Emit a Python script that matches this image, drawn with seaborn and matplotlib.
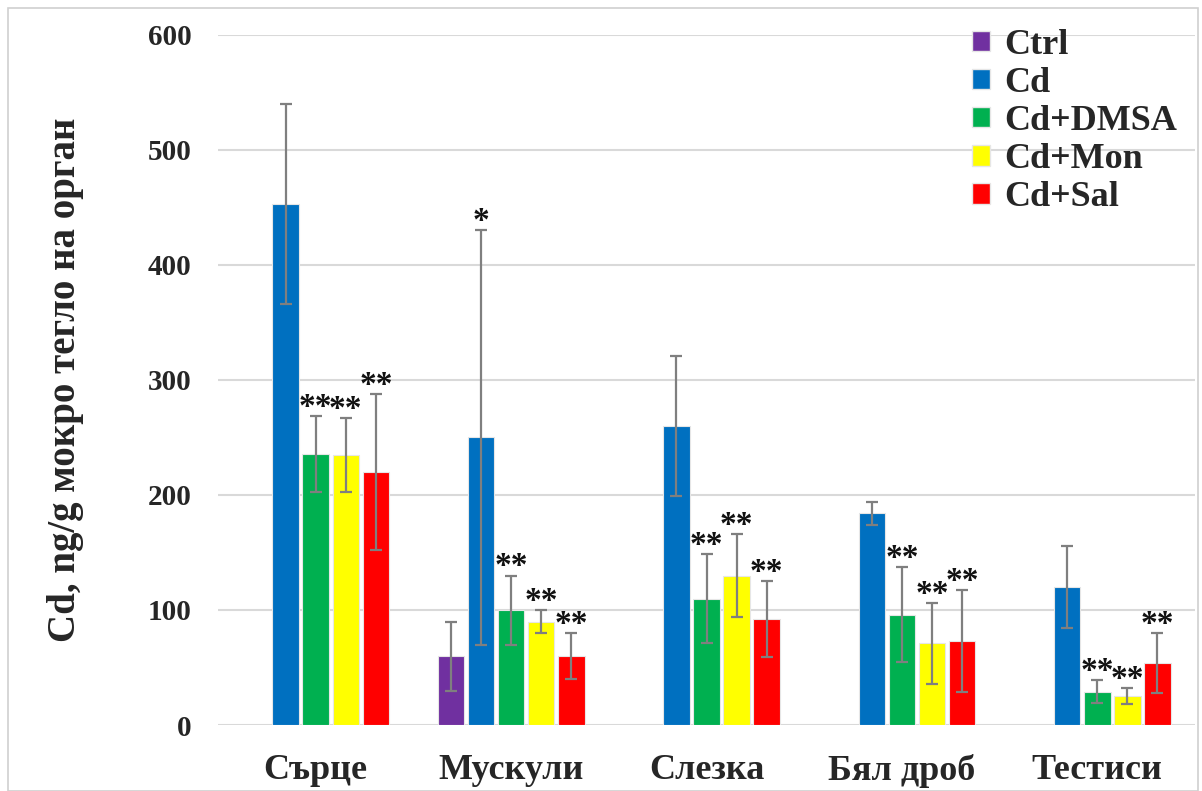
import numpy as np
import pandas as pd
import matplotlib
matplotlib.use("Agg")
import matplotlib.pyplot as plt
import matplotlib.patches as mpatches
import seaborn as sns

# ---------------- data ----------------
categories = ["Сърце", "Мускули", "Слезка", "Бял дроб", "Тестиси"]
groups = ["Ctrl", "Cd", "Cd+DMSA", "Cd+Mon", "Cd+Sal"]

ctrl_mean = [np.nan, 60, np.nan, np.nan, np.nan]
cd_mean = [453, 250, 260, 184, 120]
dmsa_mean = [236, 100, 110, 96, 29]
mon_mean = [235, 90, 130, 71, 25]
sal_mean = [220, 60, 92, 73, 54]

ctrl_sd = [np.nan, 30, np.nan, np.nan, np.nan]
cd_sd = [87, 180, 61, 10, 36]
dmsa_sd = [33, 30, 39, 41, 10]
mon_sd = [32, 10, 36, 35, 7]
sal_sd = [68, 20, 33, 44, 26]

ctrl_marks = ["", "", "", "", ""]
cd_marks = ["", "*", "", "", ""]
dmsa_marks = ["**", "**", "**", "**", "**"]
mon_marks = ["**", "**", "**", "**", "**"]
sal_marks = ["**", "**", "**", "**", "**"]

y_ticks = [0, 100, 200, 300, 400, 500, 600]
y_label = "Cd, ng/g мокро тегло на орган"

colors = ["#7030A0", "#0070C0", "#00B050", "#FFFF00", "#FF0000"]

means = [ctrl_mean, cd_mean, dmsa_mean, mon_mean, sal_mean]
sds = [ctrl_sd, cd_sd, dmsa_sd, mon_sd, sal_sd]
marks = [ctrl_marks, cd_marks, dmsa_marks, mon_marks, sal_marks]

rows = []
for g, m, s, k in zip(groups, means, sds, marks):
    for c, mv, sv, kv in zip(categories, m, s, k):
        rows.append({"organ": c, "group": g, "value": mv, "sd": sv, "mark": kv})
df = pd.DataFrame(rows)

# ---------------- plot ----------------
sns.set_style("white")
plt.rcParams["font.family"] = ["Liberation Serif", "DejaVu Serif"]
plt.rcParams["font.weight"] = "bold"

fig = plt.figure(figsize=(12.02, 7.91), dpi=100)
ax = fig.add_axes([218 / 1202, 1 - 725 / 791, (1195 - 218) / 1202, (725 - 35) / 791])

palette = dict(zip(groups, colors))
sns.barplot(data=df.dropna(subset=["value"]), x="organ", y="value", hue="group",
            order=categories, hue_order=groups, palette=palette, saturation=1,
            errorbar=None, width=0.77, gap=0.12, dodge=True,
            edgecolor="#e6e6e6", linewidth=0.8, ax=ax, legend=True, zorder=3)

# error bars and significance marks, positioned from the drawn bars
for gi, (cont, g) in enumerate(zip(ax.containers, groups)):
    sub = df[(df["group"] == g)].dropna(subset=["value"]).set_index("organ")
    for patch in cont.patches:
        xc = patch.get_x() + patch.get_width() / 2
        ci = int(round(xc))
        organ = categories[ci]
        if organ not in sub.index:
            continue
        row = sub.loc[organ]
        ax.errorbar(xc, row["value"], yerr=row["sd"], fmt="none",
                    ecolor="#7f7f7f", elinewidth=1.6, capsize=4, capthick=1.6,
                    zorder=4)
        if row["mark"]:
            ax.annotate(row["mark"], (xc, row["value"] + row["sd"]),
                        xytext=(0, -5), textcoords="offset points",
                        ha="center", va="bottom", fontsize=24,
                        fontweight="bold", color="#111111", zorder=5)

ax.set_ylim(0, 600)
ax.set_xlim(-0.5, 4.5)
ax.set_yticks(y_ticks)
ax.set_yticklabels([str(t) for t in y_ticks], fontsize=21, fontweight="bold")
ax.set_xticks(range(len(categories)))
ax.set_xticklabels(categories, fontsize=26, fontweight="bold")
ax.tick_params(axis="x", length=0, pad=21)
ax.tick_params(axis="y", length=0, pad=19)
ax.set_xlabel("")
ax.set_ylabel(y_label, fontsize=28, fontweight="bold", labelpad=46)
ax.yaxis.grid(True, color="#d9d9d9", linewidth=1.5, zorder=0)
ax.set_axisbelow(True)
for sp in ax.spines.values():
    sp.set_visible(False)

handles = [mpatches.Patch(facecolor=c, edgecolor="#e6e6e6") for c in colors]
ax.legend(handles, groups, loc="upper right", bbox_to_anchor=(1.0, 1.035),
          frameon=False, prop={"size": 26, "weight": "bold"},
          handlelength=0.5, handleheight=0.5, handletextpad=0.4,
          labelspacing=0.14, borderaxespad=0.1)

# figure border
fig.patches.append(mpatches.Rectangle((8 / 1202, 0), 1190 / 1202, 783 / 791,
                                      transform=fig.transFigure, fill=False,
                                      edgecolor="#d0d0d0", linewidth=1.2))

fig.savefig("out.png", dpi=100)
